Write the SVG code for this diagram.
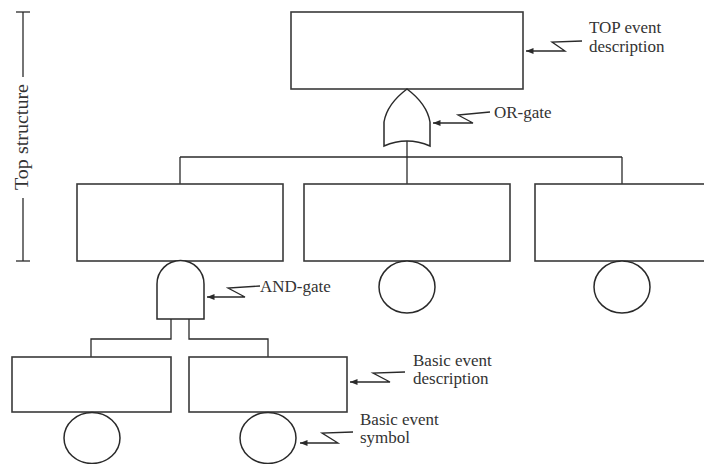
<svg xmlns="http://www.w3.org/2000/svg" width="704" height="464" viewBox="0 0 704 464">
<style>
.box{fill:#fff;stroke:#3a3a3a;stroke-width:1.6}
.gate{fill:#fff;stroke:#2a2a2a;stroke-width:1.5}
.ev{fill:#fff;stroke:#2a2a2a;stroke-width:1.5}
.ln{fill:none;stroke:#2a2a2a;stroke-width:1.3}
.pt{fill:none;stroke:#2a2a2a;stroke-width:1.3;marker-end:url(#ah)}
.lbl{font-family:"Liberation Serif","Times New Roman",serif;font-size:17px;fill:#333}
</style>
<defs>
<marker id="ah" viewBox="0 0 10 8" refX="10" refY="4" markerWidth="8" markerHeight="6" markerUnits="userSpaceOnUse" orient="auto">
<path d="M0,0 L10,4 L0,8 Z" fill="#2a2a2a"/>
</marker>
</defs>
<rect width="704" height="464" fill="#fff"/>

<g id="connectors">
<line class="ln" x1="407" y1="140" x2="407" y2="157"/>
<line class="ln" x1="180" y1="157" x2="622" y2="157"/>
<line class="ln" x1="180" y1="157" x2="180" y2="184"/>
<line class="ln" x1="407" y1="157" x2="407" y2="184"/>
<line class="ln" x1="622" y1="157" x2="622" y2="184"/>
<polyline class="ln" points="171,319 171,339 91,339 91,357"/>
<polyline class="ln" points="189,319 189,339 268,339 268,357"/>
</g>

<g id="top-structure">
<line class="ln" x1="16" y1="12" x2="30" y2="12"/>
<line class="ln" x1="23" y1="12" x2="23" y2="77"/>
<line class="ln" x1="23" y1="198" x2="23" y2="261"/>
<line class="ln" x1="16" y1="261" x2="30" y2="261"/>
<text class="lbl" transform="translate(28,137) rotate(-90)" text-anchor="middle" style="font-size:18px" textLength="106" lengthAdjust="spacingAndGlyphs">Top structure</text>
</g>

<g id="top-event">
<rect class="box" x="291" y="12" width="232" height="77"/>
</g>
<g id="or-gate">
<path class="gate" d="M407,89 Q387,104 384,122 L384,146 Q407,136 430,146 L430,122 Q427,104 407,89 Z"/>
</g>

<g id="event-left">
<rect class="box" x="77" y="184" width="206" height="77"/>
</g>
<g id="event-middle">
<rect class="box" x="304" y="184" width="206" height="77"/>
<ellipse class="ev" cx="407" cy="287" rx="28" ry="26"/>
</g>
<g id="event-right">
<rect class="box" x="535" y="184" width="206" height="77"/>
<ellipse class="ev" cx="622" cy="287" rx="28" ry="26"/>
</g>

<g id="and-gate">
<path class="gate" d="M157,319 L157,284 A23.5,23.5 0 0 1 204,284 L204,319 Z"/>
</g>

<g id="basic-left">
<rect class="box" x="12" y="357" width="159" height="55"/>
<ellipse class="ev" cx="92" cy="438" rx="28" ry="25.5"/>
</g>
<g id="basic-right">
<rect class="box" x="189" y="357" width="158" height="55"/>
<ellipse class="ev" cx="268" cy="438" rx="28" ry="25.5"/>
</g>

<g id="annotations">
<polyline class="pt" points="582,41 552,42 565,51 526,51"/>
<text class="lbl" x="589" y="33">TOP event</text>
<text class="lbl" x="589" y="52">description</text>

<polyline class="pt" points="490,112 458,115 473,123 433,123"/>
<text class="lbl" x="494" y="118">OR-gate</text>

<polyline class="pt" points="260,286 228,288 245,297 207,297"/>
<text class="lbl" x="260" y="292">AND-gate</text>

<polyline class="pt" points="405,372 373,373 390,382 350,382"/>
<text class="lbl" x="413" y="366">Basic event</text>
<text class="lbl" x="413" y="384">description</text>

<polyline class="pt" points="353,432 322,433 338,443 300,443"/>
<text class="lbl" x="360" y="425">Basic event</text>
<text class="lbl" x="360" y="443">symbol</text>
</g>
</svg>
